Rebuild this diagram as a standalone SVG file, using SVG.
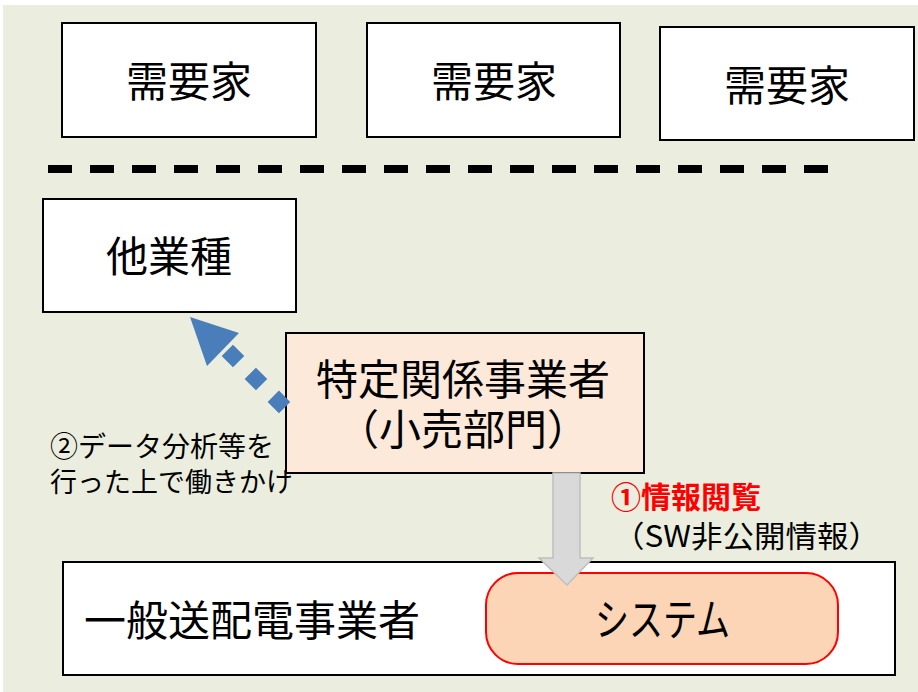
<svg xmlns="http://www.w3.org/2000/svg" width="918" height="692" viewBox="0 0 918 692">
<style>
.box{fill:#fff;stroke:#000;stroke-width:2}
.t{font-family:"Noto Sans CJK JP","Noto Sans",sans-serif;fill:#000;text-anchor:middle}
.big{font-size:42px}
.mid{font-size:28px}
</style>
<rect x="0" y="0" width="918" height="692" fill="#fff"/>
<rect x="3" y="5" width="915" height="687" fill="#EBEEDF"/>
<g id="juyoka1"><rect class="box" x="62" y="23" width="254" height="114"/><text class="t big" x="189" y="97">需要家</text></g>
<g id="juyoka2"><rect class="box" x="367" y="23" width="253" height="114"/><text class="t big" x="494" y="97">需要家</text></g>
<g id="juyoka3"><rect class="box" x="660" y="27" width="254" height="113"/><text class="t big" x="787" y="101">需要家</text></g>
<line x1="48" y1="169" x2="828" y2="169" stroke="#000" stroke-width="8" stroke-dasharray="24 18"/>
<g id="tagyoshu"><rect class="box" x="43" y="199" width="253" height="113"/><text class="t big" x="169" y="272">他業種</text></g>
<g id="tokutei"><rect x="286" y="333" width="358" height="140" fill="#FDE9D9" stroke="#000" stroke-width="2"/><text class="t big" x="463" y="395">特定関係事業者</text><text class="t big" x="463" y="445">（小売部門）</text></g>
<g id="ippan"><rect class="box" x="63" y="562" width="832" height="113"/><text class="t big" x="84" y="636" style="text-anchor:start">一般送配電事業者</text></g>
<g id="system"><rect x="486" y="573" width="352" height="91" rx="32" fill="#FBD5B5" stroke="#FF0000" stroke-width="2"/><text class="t" x="595" y="636" style="text-anchor:start;font-size:44px" textLength="135" lengthAdjust="spacingAndGlyphs">システム</text></g>
<g id="connectors">
<line x1="286" y1="409" x2="222" y2="345" stroke="#4A7EBB" stroke-width="16" stroke-dasharray="16 16.5" stroke-dashoffset="-2"/>
<polygon points="190,317 239,333 207,366" fill="#4A7EBB"/>
<polygon points="553,473 580,473 580,558 593,558 567,585 539,558 553,558" fill="#D9D9D9" stroke="#BFBFBF" stroke-width="1.5"/>
</g>
<g id="labels">
<text class="t mid" x="50" y="457" style="text-anchor:start">②データ分析等を</text>
<text class="t" x="50" y="492" style="text-anchor:start;font-size:27px">行った上で働きかけ</text>
<text class="t" x="611" y="508" style="text-anchor:start;font-size:30px;font-weight:bold;fill:#FF0000">①情報閲覧</text>
<text class="t" x="613" y="547" style="text-anchor:start;font-size:30px" textLength="267" lengthAdjust="spacingAndGlyphs">（SW非公開情報）</text>
</g>
</svg>
